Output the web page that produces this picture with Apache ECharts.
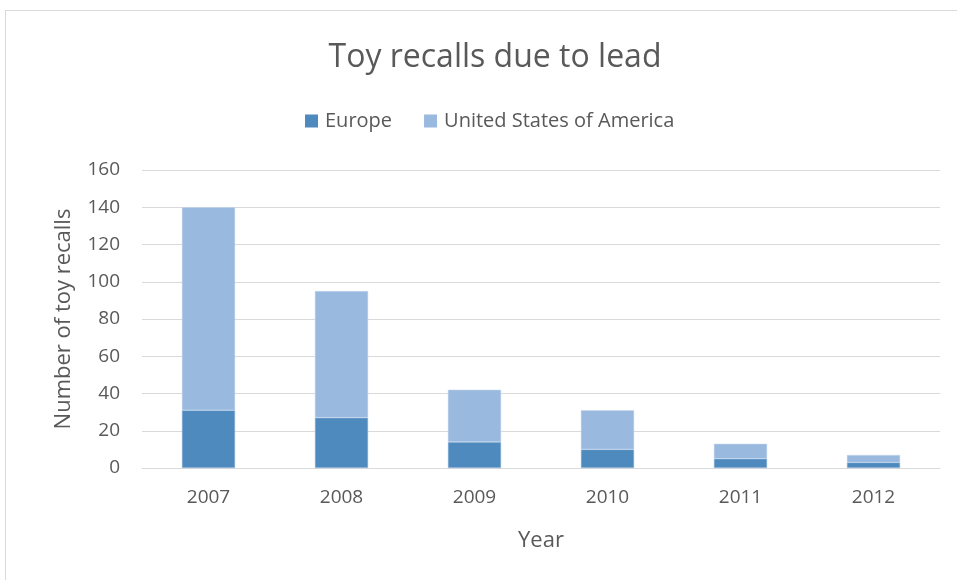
<!DOCTYPE html>
<html>
<head>
<meta charset="utf-8">
<script src="https://cdn.jsdelivr.net/npm/echarts@6/dist/echarts.min.js"></script>
<style>
html,body{margin:0;padding:0;background:#fff;}
#wrap{position:absolute;left:5px;top:10px;width:960px;height:580px;border-left:1px solid #d9d9d9;border-top:1px solid #d9d9d9;}
#chart{position:absolute;left:0;top:0;width:957px;height:580px;}
</style>
</head>
<body>
<div id="wrap"></div>
<div id="chart"></div>
<script>
const years = ['2007', '2008', '2009', '2010', '2011', '2012'];
const europe = [31, 27, 14, 10, 5, 3];
const usa = [109, 68, 28, 21, 8, 4];
const yTicks = {min: 0, max: 160, interval: 20};

const chart = echarts.init(document.getElementById('chart'));
const font = '"Open Sans", "Noto Sans", sans-serif';
chart.setOption({
  animation: false,
  title: {
    text: 'Toy recalls due to lead',
    left: 490, top: 37, textAlign: 'center',
    textStyle: {fontFamily: font, fontSize: 32, fontWeight: 'normal', color: '#595959'}
  },
  legend: {
    data: ['Europe', 'United States of America'],
    left: 300, top: 106,
    itemWidth: 13, itemHeight: 13, itemGap: 32,
    icon: 'rect',
    itemStyle: {borderWidth: 0},
    textStyle: {fontFamily: font, fontSize: 20, color: '#595959', padding: [0, 0, 0, 2]}
  },
  grid: {left: 142, right: 17, top: 170, bottom: 112},
  xAxis: {
    type: 'category', data: years,
    name: 'Year', nameLocation: 'middle', nameGap: 62,
    nameTextStyle: {fontFamily: font, fontSize: 22, color: '#595959'},
    axisLine: {lineStyle: {color: '#d9d9d9', width: 1}},
    axisTick: {show: false},
    axisLabel: {fontFamily: font, fontSize: 19, color: '#595959', margin: 20}
  },
  yAxis: {
    type: 'value', min: yTicks.min, max: yTicks.max, interval: yTicks.interval,
    name: 'Number of toy recalls', nameLocation: 'middle', nameGap: 67,
    nameTextStyle: {fontFamily: font, fontSize: 22, color: '#595959'},
    axisLine: {show: false}, axisTick: {show: false},
    splitLine: {lineStyle: {color: '#d9d9d9', width: 1}},
    axisLabel: {fontFamily: font, fontSize: 19, color: '#595959', margin: 22}
  },
  series: [
    {name: 'Europe', type: 'bar', stack: 'total', data: europe, barWidth: '40%',
     itemStyle: {color: '#4f8abe', borderColor: '#a9c4e4', borderWidth: 0.5}},
    {name: 'United States of America', type: 'bar', stack: 'total', data: usa, barWidth: '40%',
     itemStyle: {color: '#99b9df', borderColor: '#c4d6ee', borderWidth: 0.5}}
  ]
});
</script>
</body>
</html>
